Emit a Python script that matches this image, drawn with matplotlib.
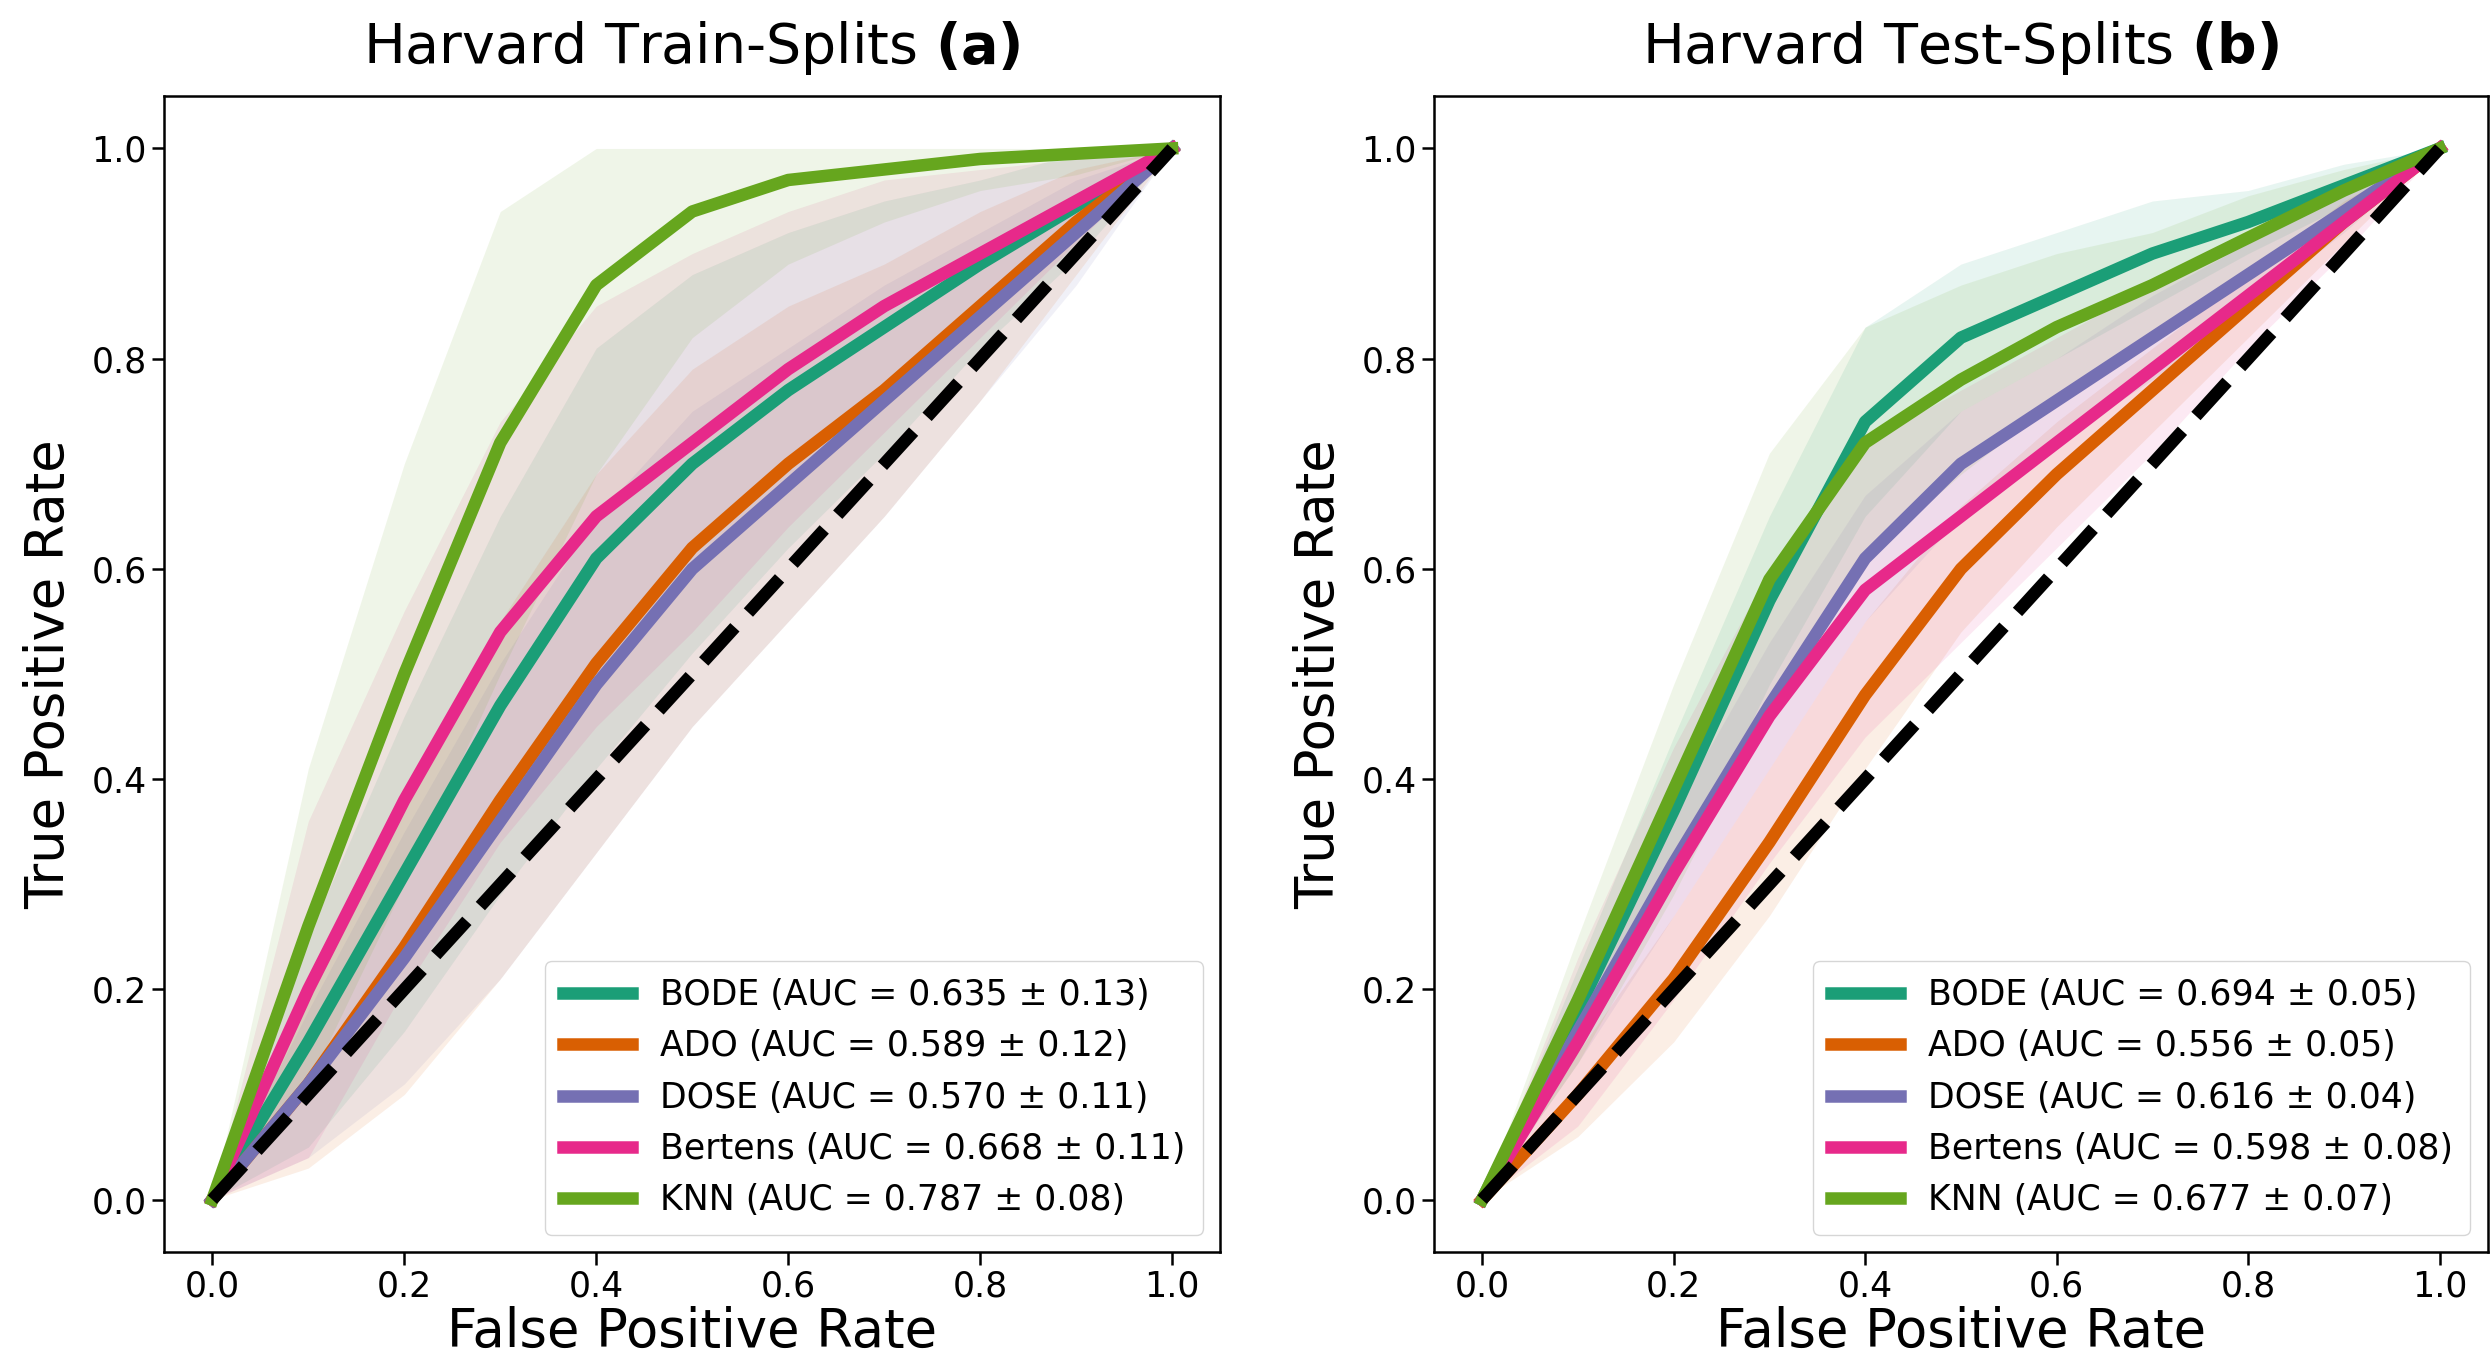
import numpy as np
import matplotlib
matplotlib.use("Agg")
import matplotlib.pyplot as plt

fpr = [0, 0.1, 0.2, 0.3, 0.4, 0.5, 0.6, 0.7, 0.8, 0.9, 1.0]
names = ["BODE", "ADO", "DOSE", "Bertens", "KNN"]
colors = ["#1b9e77", "#d95f02", "#7570b3", "#e7298a", "#66a61e"]

train_tpr = {
    "BODE":    [0, 0.15, 0.31, 0.47, 0.61, 0.70, 0.77, 0.83, 0.89, 0.945, 1],
    "ADO":     [0, 0.11, 0.24, 0.38, 0.51, 0.62, 0.70, 0.77, 0.85, 0.93, 1],
    "DOSE":    [0, 0.11, 0.23, 0.36, 0.49, 0.60, 0.68, 0.76, 0.84, 0.92, 1],
    "Bertens": [0, 0.20, 0.38, 0.54, 0.65, 0.72, 0.79, 0.85, 0.90, 0.95, 1],
    "KNN":     [0, 0.26, 0.50, 0.72, 0.87, 0.94, 0.97, 0.98, 0.99, 0.995, 1],
}
train_std = {
    "BODE":    [0, 0.10, 0.15, 0.18, 0.20, 0.18, 0.15, 0.12, 0.08, 0.05, 0],
    "ADO":     [0, 0.08, 0.14, 0.17, 0.18, 0.17, 0.15, 0.12, 0.09, 0.05, 0],
    "DOSE":    [0, 0.07, 0.12, 0.15, 0.16, 0.15, 0.13, 0.11, 0.08, 0.05, 0],
    "Bertens": [0, 0.16, 0.18, 0.20, 0.20, 0.18, 0.15, 0.12, 0.08, 0.04, 0],
    "KNN":     [0, 0.15, 0.20, 0.22, 0.18, 0.12, 0.08, 0.05, 0.03, 0.02, 0],
}
train_auc = ["0.635 ± 0.13", "0.589 ± 0.12", "0.570 ± 0.11", "0.668 ± 0.11", "0.787 ± 0.08"]

test_tpr = {
    "BODE":    [0, 0.18, 0.37, 0.57, 0.74, 0.82, 0.86, 0.90, 0.93, 0.965, 1],
    "ADO":     [0, 0.10, 0.21, 0.34, 0.48, 0.60, 0.69, 0.77, 0.85, 0.93, 1],
    "DOSE":    [0, 0.16, 0.32, 0.47, 0.61, 0.70, 0.76, 0.82, 0.88, 0.94, 1],
    "Bertens": [0, 0.15, 0.31, 0.46, 0.58, 0.65, 0.72, 0.79, 0.86, 0.93, 1],
    "KNN":     [0, 0.19, 0.39, 0.59, 0.72, 0.78, 0.83, 0.87, 0.915, 0.96, 1],
}
test_std = {
    "BODE":    [0, 0.04, 0.07, 0.08, 0.09, 0.07, 0.06, 0.05, 0.03, 0.02, 0],
    "ADO":     [0, 0.04, 0.06, 0.07, 0.07, 0.06, 0.05, 0.04, 0.03, 0.02, 0],
    "DOSE":    [0, 0.03, 0.05, 0.06, 0.06, 0.05, 0.04, 0.04, 0.03, 0.02, 0],
    "Bertens": [0, 0.08, 0.12, 0.14, 0.14, 0.12, 0.10, 0.08, 0.05, 0.03, 0],
    "KNN":     [0, 0.06, 0.10, 0.12, 0.11, 0.09, 0.07, 0.05, 0.04, 0.02, 0],
}
test_auc = ["0.694 ± 0.05", "0.556 ± 0.05", "0.616 ± 0.04", "0.598 ± 0.08", "0.677 ± 0.07"]

fig = plt.figure(figsize=(24.9, 13.7), dpi=100)
ax1 = fig.add_axes([0.066, 0.086, 0.424, 0.844])
ax2 = fig.add_axes([0.576, 0.086, 0.423, 0.844])

def draw(ax, tpr, std, aucs, title):
    x = np.array(fpr)
    for n, c, a in zip(names, colors, aucs):
        y = np.array(tpr[n]); s = np.array(std[n])
        ax.fill_between(x, np.clip(y - s, 0, 1), np.clip(y + s, 0, 1), color=c, alpha=0.1, lw=0)
        ax.plot(x, y, color=c, lw=9, label=f"{n} (AUC = {a})", solid_joinstyle="round")
    ax.plot([0, 1], [0, 1], "k--", lw=9)
    ax.set_xlim(-0.05, 1.05); ax.set_ylim(-0.05, 1.05)
    ax.set_xticks(np.arange(0, 1.01, 0.2)); ax.set_yticks(np.arange(0, 1.01, 0.2))
    ax.tick_params(labelsize=25, length=9, width=1.8)
    ax.set_xlabel("False Positive Rate", fontsize=38, labelpad=2)
    ax.set_ylabel("True Positive Rate", fontsize=38, labelpad=12)
    ax.set_title(title, fontsize=40, pad=24)
    for sp in ax.spines.values():
        sp.set_linewidth(1.8)
    ax.legend(loc="lower right", fontsize=25, handlelength=2, borderpad=0.5, labelspacing=0.5)

draw(ax1, train_tpr, train_std, train_auc, r"Harvard Train-Splits $\mathbf{(a)}$")
draw(ax2, test_tpr, test_std, test_auc, r"Harvard Test-Splits $\mathbf{(b)}$")
fig.savefig("out.png", dpi=100)
